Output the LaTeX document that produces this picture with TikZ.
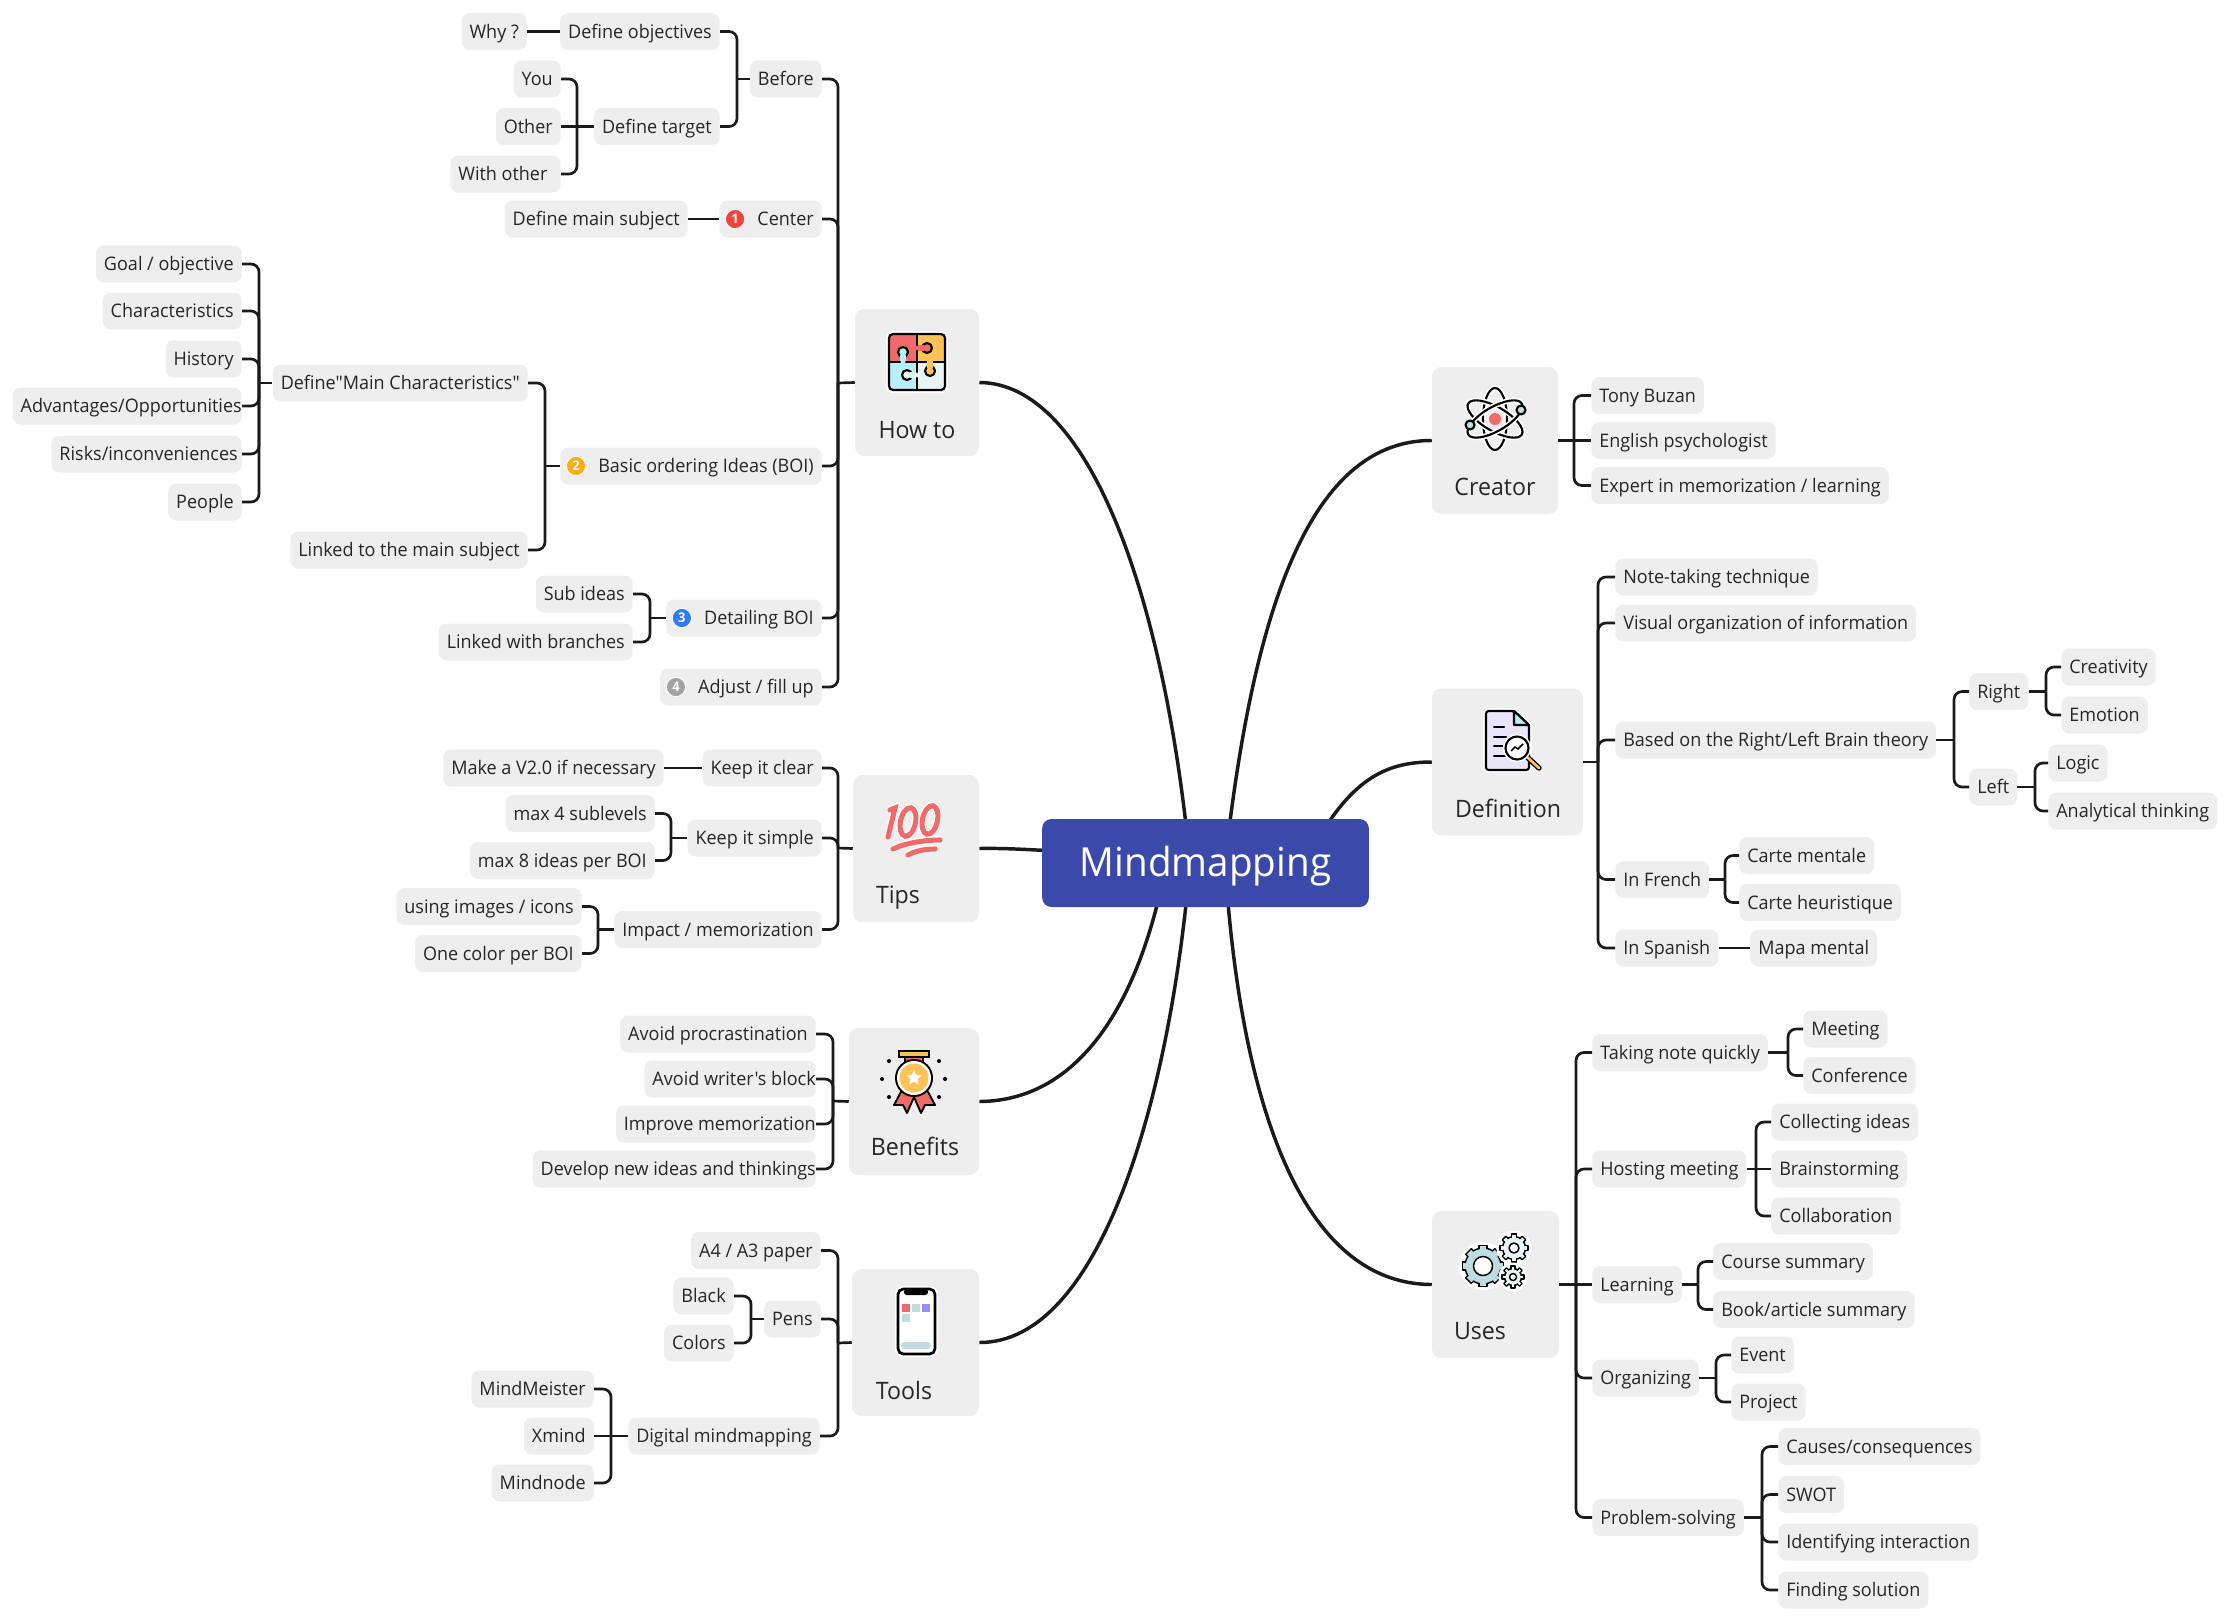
\documentclass[tikz,border=0pt]{standalone}
\usepackage{fontspec}
\setmainfont{Open Sans}[FakeStretch=0.965,Ligatures=TeXOff]
\usetikzlibrary{backgrounds,shapes.geometric}
\definecolor{boxgray}{HTML}{EEEEEE}
\definecolor{inkdark}{HTML}{262626}
\definecolor{linkdark}{HTML}{1A1A1A}
\definecolor{rootblue}{HTML}{3B4AAA}
\definecolor{iconred}{HTML}{F06A6A}
\definecolor{iconamber}{HTML}{FFC257}
\definecolor{iconcyan}{HTML}{B8EFF8}
\definecolor{iconpale}{HTML}{E8F5F5}
\definecolor{iconteal}{HTML}{BEDDE2}
\definecolor{iconviolet}{HTML}{9B8CF5}
\definecolor{iconlilac}{HTML}{E9E6FB}
\definecolor{badgered}{HTML}{F4433C}
\definecolor{badgeamber}{HTML}{FFAE0D}
\definecolor{badgeblue}{HTML}{2E7DF6}
\definecolor{badgegray}{HTML}{A3A3A3}
\tikzset{
  topic/.style={fill=boxgray,rounded corners=6pt,minimum height=27.75pt,inner xsep=6pt,inner ysep=0pt,
    text=inkdark,font=\fontsize{14}{16}\selectfont,text height=11.5pt,text depth=1.5pt},
  catbox/.style={fill=boxgray,rounded corners=7pt,minimum height=110.25pt,inner sep=0pt},
  catlabel/.style={anchor=base,text=inkdark,font=\fontsize{18}{20}\selectfont,inner sep=0pt},
  rootbox/.style={fill=rootblue,rounded corners=7pt,minimum width=245pt,minimum height=66pt,inner sep=0pt,
    text=white,font=\fontsize{30}{34}\selectfont,text height=26pt,text depth=6.3pt},
  badge/.style={circle,draw=white,line width=.7pt,inner sep=0pt,minimum size=14.5pt,text=white,
    font=\fontsize{10}{10}\selectfont\bfseries},
  link/.style={draw=linkdark,line width=2pt,rounded corners=6pt},
  branch/.style={draw=linkdark,line width=2.6pt},
  iconline/.style={draw=black,line width=1.6pt,line join=round,line cap=round},
  gearline/.style={draw=black,line width=1.1pt,line join=round},
  halo/.style={preaction={draw=white,line width=#1}},
}
\newcommand{\badgegap}{\hspace{22.5pt}}
\newcommand{\overrun}[1]{\hspace*{-#1}\mbox{}}
\newcommand{\gearicon}[5]{
  \begin{scope}[shift={(#1)}]
    \fill[white] (0,0) circle [radius=#2+6];
    \foreach \a in {0,45,...,315}
      \draw[gearline,fill=#4,rotate=\a] ({-0.22*#2},0) rectangle ({0.22*#2},{#2+2.5});
    \draw[gearline,fill=#4] (0,0) circle [radius=#2];
    \foreach \a in {0,45,...,315}
      \fill[#4,rotate=\a] ({-0.22*#2+.8},{#2-1.5}) rectangle ({0.22*#2-.8},{#2+1.6});
    \draw[gearline,fill=#5] (0,0) circle [radius=#3];
  \end{scope}
}
\begin{document}
\begin{tikzpicture}[x=0.75pt,y=-0.75pt]
\useasboundingbox (0,0) rectangle (2233,1620);

\node[rootbox] (root) at (1205.5,863) {Mindmapping};
\coordinate (rootL) at (1190,863);
\coordinate (rootR) at (1225,863);
\coordinate (rootD) at (1312,850);
\coordinate (rootT) at (1060,851);
\coordinate (rootB) at (1165,870);

\node[catbox,minimum width=93pt] (howto) at (917,382.5) {};
\node[catlabel] (howtolabel) at (917,438) {How to};
\node[catbox,minimum width=94.5pt] (tips) at (916,848.5) {};
\node[catlabel] (tipslabel) at (898,903.5) {Tips};
\node[catbox,minimum width=97.5pt] (benefits) at (914,1101.5) {};
\node[catlabel] (benefitslabel) at (915,1155.5) {Benefits};
\node[catbox,minimum width=95.25pt] (tools) at (915.5,1342.5) {};
\node[catlabel] (toolslabel) at (904,1399) {Tools};
\node[catbox,minimum width=94.5pt] (creator) at (1495,440.5) {};
\node[catlabel] (creatorlabel) at (1495,495.5) {Creator};
\node[catbox,minimum width=113.25pt] (definition) at (1507.5,762) {};
\node[catlabel] (definitionlabel) at (1508,817) {Definition};
\node[catbox,minimum width=95.25pt] (uses) at (1495.5,1284.5) {};
\node[catlabel] (useslabel) at (1480,1339.5) {Uses};

\node[topic,anchor=east] (before) at (822,79) {Before};
\node[topic,anchor=east] (defobj) at (720,31.5) {Define objectives};
\node[topic,anchor=east] (why) at (527,31.5) {Why ?};
\node[topic,anchor=east] (deftarget) at (720,126.5) {Define target};
\node[topic,anchor=east] (you) at (561,79) {You};
\node[topic,anchor=east] (other) at (561,126.5) {Other};
\node[topic,anchor=east] (withother) at (561,174) {With other\hspace*{4pt}\mbox{}};
\node[topic,anchor=east] (center) at (822,219) {\badgegap Center};
\node[topic,anchor=east] (mainsubject) at (688,219) {Define main subject};
\node[topic,anchor=east] (boi) at (822,466) {\badgegap Basic ordering Ideas (BOI)};
\node[topic,anchor=east] (mainchar) at (528,383) {Define"Main Characteristics"};
\node[topic,anchor=east] (linked) at (528,550) {Linked to the main subject};
\node[topic,anchor=east] (goal) at (242,264) {Goal / objective};
\node[topic,anchor=east] (charac) at (242,311) {Characteristics};
\node[topic,anchor=east] (history) at (242,359) {History};
\node[topic,anchor=east] (advant) at (242,406) {Advantages/Opportunities\overrun{6pt}};
\node[topic,anchor=east] (risks) at (242,454) {Risks/inconveniences\overrun{3pt}};
\node[topic,anchor=east] (people) at (242,502) {People};
\node[topic,anchor=east] (detail) at (822,618) {\badgegap Detailing BOI};
\node[topic,anchor=east] (subideas) at (633,594) {Sub ideas};
\node[topic,anchor=east] (linkbranch) at (633,642) {Linked with branches};
\node[topic,anchor=east] (adjust) at (822,687) {\badgegap Adjust / fill up};

\node[badge,fill=badgered] (badgea) at ([xshift=12pt]center.west) {1};
\node[badge,fill=badgeamber] (badgeb) at ([xshift=12pt]boi.west) {2};
\node[badge,fill=badgeblue] (badgec) at ([xshift=12pt]detail.west) {3};
\node[badge,fill=badgegray] (badged) at ([xshift=12pt]adjust.west) {4};

\node[topic,anchor=east] (clear) at (822,768) {Keep it clear};
\node[topic,anchor=east] (vtwo) at (664,768) {Make a V2.0 if necessary};
\node[topic,anchor=east] (simple) at (822,838) {Keep it simple};
\node[topic,anchor=east] (sublevels) at (655,813.5) {max 4 sublevels};
\node[topic,anchor=east] (perboi) at (655,860.5) {max 8 ideas per BOI};
\node[topic,anchor=east] (impact) at (822,929.5) {Impact / memorization};
\node[topic,anchor=east] (images) at (582,906.5) {using images / icons};
\node[topic,anchor=east] (onecolor) at (582,953.5) {One color per BOI};

\node[topic,anchor=east] (procrast) at (816,1034) {Avoid procrastination};
\node[topic,anchor=east] (writer) at (816,1079) {Avoid writer's block\overrun{6pt}};
\node[topic,anchor=east] (improve) at (816,1124) {Improve memorization\overrun{6pt}};
\node[topic,anchor=east] (newideas) at (816,1169) {Develop new ideas and thinkings\overrun{6pt}};

\node[topic,anchor=east] (paper) at (821,1250.5) {A4 / A3 paper};
\node[topic,anchor=east] (pens) at (821,1319) {Pens};
\node[topic,anchor=east] (black) at (734,1296) {Black};
\node[topic,anchor=east] (colors) at (734,1343) {Colors};
\node[topic,anchor=east] (digital) at (820,1436) {Digital mindmapping};
\node[topic,anchor=east] (meister) at (594,1389) {MindMeister};
\node[topic,anchor=east] (xmind) at (594,1436) {Xmind};
\node[topic,anchor=east] (mindnode) at (594,1483) {Mindnode};

\node[topic,anchor=west] (tony) at (1591,395.5) {Tony Buzan};
\node[topic,anchor=west] (english) at (1591,440.5) {English psychologist};
\node[topic,anchor=west] (expert) at (1591,485.5) {Expert in memorization / learning};

\node[topic,anchor=west] (note) at (1615,577) {Note-taking technique};
\node[topic,anchor=west] (visual) at (1615,623) {Visual organization of information};
\node[topic,anchor=west] (theory) at (1615,740) {Based on the Right/Left Brain theory};
\node[topic,anchor=west] (right) at (1969,691.5) {Right};
\node[topic,anchor=west] (creativity) at (2061,667) {Creativity};
\node[topic,anchor=west] (emotion) at (2061,715) {Emotion};
\node[topic,anchor=west] (left) at (1969,787) {Left};
\node[topic,anchor=west] (logic) at (2048,763) {Logic};
\node[topic,anchor=west] (analytical) at (2048,811) {Analytical thinking};
\node[topic,anchor=west] (french) at (1615,879.5) {In French};
\node[topic,anchor=west] (mentale) at (1739,855.5) {Carte mentale};
\node[topic,anchor=west] (heuristique) at (1739,902.5) {Carte heuristique};
\node[topic,anchor=west] (spanish) at (1615,948) {In Spanish};
\node[topic,anchor=west] (mapa) at (1750,948) {Mapa mental};

\node[topic,anchor=west] (quickly) at (1592,1052.5) {Taking note quickly};
\node[topic,anchor=west] (meeting) at (1803,1029) {Meeting};
\node[topic,anchor=west] (conference) at (1803,1075.5) {Conference};
\node[topic,anchor=west] (hosting) at (1592,1169) {Hosting meeting};
\node[topic,anchor=west] (collecting) at (1771,1122) {Collecting ideas};
\node[topic,anchor=west] (brainstorm) at (1771,1169) {Brainstorming};
\node[topic,anchor=west] (collab) at (1771,1216) {Collaboration};
\node[topic,anchor=west] (learning) at (1592,1284.5) {Learning};
\node[topic,anchor=west] (course) at (1713,1261.5) {Course summary};
\node[topic,anchor=west] (book) at (1713,1309.5) {Book/article summary};
\node[topic,anchor=west] (organizing) at (1592,1378) {Organizing};
\node[topic,anchor=west] (event) at (1731,1355) {Event};
\node[topic,anchor=west] (project) at (1731,1402) {Project};
\node[topic,anchor=west] (problem) at (1592,1517.5) {Problem-solving};
\node[topic,anchor=west] (causes) at (1778,1446.5) {Causes/consequences};
\node[topic,anchor=west] (swot) at (1778,1494.5) {SWOT};
\node[topic,anchor=west] (identify) at (1778,1542) {Identifying interaction};
\node[topic,anchor=west] (finding) at (1778,1590) {Finding solution};

\coordinate (hbar) at (838,383);
\coordinate (beforebar) at (737,79);
\coordinate (targetbar) at (577,126.5);
\coordinate (boibar) at (545,466);
\coordinate (charbar) at (259,383);
\coordinate (detailbar) at (650,618);
\coordinate (tbar) at (838,848);
\coordinate (simplebar) at (671,838);
\coordinate (impactbar) at (598,929.5);
\coordinate (bbar) at (833,1101);
\coordinate (tlbar) at (838,1343);
\coordinate (pensbar) at (751,1319);
\coordinate (digitalbar) at (611,1436);
\coordinate (crbar) at (1574,440.5);
\coordinate (dbar) at (1598,762);
\coordinate (theorybar) at (1954,740);
\coordinate (rightbar) at (2046,691.5);
\coordinate (leftbar) at (2035,787);
\coordinate (frenchbar) at (1725,879.5);
\coordinate (ubar) at (1576,1284.5);
\coordinate (quickbar) at (1788,1052.5);
\coordinate (hostbar) at (1756,1169);
\coordinate (learnbar) at (1698,1284.5);
\coordinate (orgbar) at (1716,1378);
\coordinate (probbar) at (1762,1517.5);

\draw[link] (why.east) -- (defobj.west);
\draw[link] (defobj.east) -| (beforebar);
\draw[link] (deftarget.east) -| (beforebar);
\draw[link] (beforebar) -- (before.west);
\draw[link] (you.east) -| (targetbar);
\draw[link] (withother.east) -| (targetbar);
\draw[link] (other.east) -- (deftarget.west);
\draw[link] (before.east) -| (hbar);
\draw[link] (center.east) -| (hbar);
\draw[link] (boi.east) -| (hbar);
\draw[link] (detail.east) -| (hbar);
\draw[link] (adjust.east) -| (hbar);
\draw[link] (hbar) -- (howto.west);
\draw[link] (mainsubject.east) -- (center.west);
\draw[link] (mainchar.east) -| (boibar);
\draw[link] (linked.east) -| (boibar);
\draw[link] (boibar) -- (boi.west);
\draw[link] (goal.east) -| (charbar);
\draw[link] (charac.east) -| (charbar);
\draw[link] (history.east) -| (charbar);
\draw[link] (advant.east) -| (charbar);
\draw[link] (risks.east) -| (charbar);
\draw[link] (people.east) -| (charbar);
\draw[link] (charbar) -- (mainchar.west);
\draw[link] (subideas.east) -| (detailbar);
\draw[link] (linkbranch.east) -| (detailbar);
\draw[link] (detailbar) -- (detail.west);

\draw[link] (clear.east) -| (tbar);
\draw[link] (simple.east) -| (tbar);
\draw[link] (impact.east) -| (tbar);
\draw[link] (tbar) -- (tips.west);
\draw[link] (vtwo.east) -- (clear.west);
\draw[link] (sublevels.east) -| (simplebar);
\draw[link] (perboi.east) -| (simplebar);
\draw[link] (simplebar) -- (simple.west);
\draw[link] (images.east) -| (impactbar);
\draw[link] (onecolor.east) -| (impactbar);
\draw[link] (impactbar) -- (impact.west);

\draw[link] (procrast.east) -| (bbar);
\draw[link] (writer.east) -| (bbar);
\draw[link] (improve.east) -| (bbar);
\draw[link] (newideas.east) -| (bbar);
\draw[link] (bbar) -- (benefits.west);

\draw[link] (paper.east) -| (tlbar);
\draw[link] (pens.east) -| (tlbar);
\draw[link] (digital.east) -| (tlbar);
\draw[link] (tlbar) -- (tools.west);
\draw[link] (black.east) -| (pensbar);
\draw[link] (colors.east) -| (pensbar);
\draw[link] (pensbar) -- (pens.west);
\draw[link] (meister.east) -| (digitalbar);
\draw[link] (mindnode.east) -| (digitalbar);
\draw[link] (xmind.east) -- (digital.west);

\draw[link] (tony.west) -| (crbar);
\draw[link] (expert.west) -| (crbar);
\draw[link] (creator.east) -- (english.west);

\draw[link] (note.west) -| (dbar);
\draw[link] (visual.west) -| (dbar);
\draw[link] (theory.west) -| (dbar);
\draw[link] (french.west) -| (dbar);
\draw[link] (spanish.west) -| (dbar);
\draw[link] (dbar) -- (definition.east);
\draw[link] (right.west) -| (theorybar);
\draw[link] (left.west) -| (theorybar);
\draw[link] (theorybar) -- (theory.east);
\draw[link] (creativity.west) -| (rightbar);
\draw[link] (emotion.west) -| (rightbar);
\draw[link] (rightbar) -- (right.east);
\draw[link] (logic.west) -| (leftbar);
\draw[link] (analytical.west) -| (leftbar);
\draw[link] (leftbar) -- (left.east);
\draw[link] (mentale.west) -| (frenchbar);
\draw[link] (heuristique.west) -| (frenchbar);
\draw[link] (frenchbar) -- (french.east);
\draw[link] (spanish.east) -- (mapa.west);

\draw[link] (quickly.west) -| (ubar);
\draw[link] (hosting.west) -| (ubar);
\draw[link] (learning.west) -- (ubar);
\draw[link] (organizing.west) -| (ubar);
\draw[link] (problem.west) -| (ubar);
\draw[link] (ubar) -- (uses.east);
\draw[link] (meeting.west) -| (quickbar);
\draw[link] (conference.west) -| (quickbar);
\draw[link] (quickbar) -- (quickly.east);
\draw[link] (collecting.west) -| (hostbar);
\draw[link] (collab.west) -| (hostbar);
\draw[link] (brainstorm.west) -- (hosting.east);
\draw[link] (course.west) -| (learnbar);
\draw[link] (book.west) -| (learnbar);
\draw[link] (learnbar) -- (learning.east);
\draw[link] (event.west) -| (orgbar);
\draw[link] (project.west) -| (orgbar);
\draw[link] (orgbar) -- (organizing.east);
\draw[link] (causes.west) -| (probbar);
\draw[link] (swot.west) -| (probbar);
\draw[link] (identify.west) -| (probbar);
\draw[link] (finding.west) -| (probbar);
\draw[link] (probbar) -- (problem.east);

\begin{pgfonlayer}{background}
\draw[branch] (howto.east) .. controls (1090,383) and (1165,600) .. (rootL);
\draw[branch] (creator.west) .. controls (1300,440) and (1250,640) .. (rootR);
\draw[branch] (definition.west) .. controls (1385,762) and (1350,780) .. (rootD);
\draw[branch] (tips.east) .. controls (1010,848) and (1030,850) .. (rootT);
\draw[branch] (benefits.east) .. controls (1070,1101) and (1135,1020) .. (rootB);
\draw[branch] (tools.east) .. controls (1100,1343) and (1170,1100) .. (rootL);
\draw[branch] (uses.west) .. controls (1300,1284) and (1240,1100) .. (rootR);
\end{pgfonlayer}

\begin{scope}[shift={(917,362)}]
  \fill[white,rounded corners=4pt] (-31,-31) rectangle (31,31);
  \fill[iconred] (-28,-28) rectangle (0,0);
  \fill[iconamber] (0,-28) rectangle (28,0);
  \fill[iconcyan] (-28,0) rectangle (0,28);
  \fill[iconpale] (0,0) rectangle (28,28);
  \draw[iconline,fill=iconcyan] (-14,-10) circle [radius=5];
  \draw[iconline,fill=iconred] (10,-14) circle [radius=5];
  \draw[iconline,fill=iconamber] (13,9) circle [radius=5];
  \draw[iconline,fill=iconpale] (-10,13) circle [radius=5];
  \fill[iconcyan] (-17,-7) rectangle (-11,1);
  \fill[iconred] (-1,-17) rectangle (7,-11);
  \fill[iconamber] (10,-1) rectangle (16,6);
  \fill[iconpale] (-7,10) rectangle (1,16);
  \draw[iconline] (-28,0) -- (-17,0) (-11,0) -- (28,0) (0,-28) -- (0,-17) (0,-11) -- (0,10) (0,16) -- (0,28);
  \fill[iconamber] (10,-2) rectangle (16,2);
  \draw[iconline,rounded corners=3pt] (-28,-28) rectangle (28,28);
\end{scope}

\draw[iconred,line width=3.8pt,line cap=round,halo=5.6pt] (890,810) -- (895,808) -- (888,837);
\draw[iconred,line width=3.8pt,halo=5.6pt,rotate around={-12:(908,822)}] (908,822) ellipse [x radius=7.5,y radius=14.5];
\draw[iconred,line width=3.8pt,halo=5.6pt,rotate around={-12:(930,820)}] (930,820) ellipse [x radius=7.5,y radius=14.5];
\draw[iconred,line width=3.8pt,line cap=round,halo=5.6pt] (893,849) .. controls (905,843) and (925,840) .. (940,840);
\draw[iconred,line width=3.8pt,line cap=round,halo=5.6pt] (908,855) .. controls (915,851) and (925,849) .. (935,849);

\fill[iconred,draw=black,line width=1.4pt,line join=round] (902,1090) -- (894,1105) -- (903,1105) -- (907,1113) -- (914,1097) -- (921,1113) -- (925,1105) -- (935,1105) -- (927,1090) -- cycle;
\fill[iconred,draw=black,line width=1.4pt] (905,1057) rectangle (923,1066);
\fill[iconamber,draw=black,line width=1.4pt] (899,1051) rectangle (929,1057);
\fill[black] (914,1078) circle [radius=19];
\fill[white] (914,1078) circle [radius=17];
\fill[iconamber] (914,1078) circle [radius=14.5];
\node[star,star points=5,star point ratio=2.2,fill=white,inner sep=0pt,minimum size=12pt] (medalstar) at (914,1078) {};
\foreach \p in {(889,1061),(882,1079),(889,1097),(939,1061),(945,1079),(939,1097)}
  \fill[black] \p circle [radius=2];

\fill[white,rounded corners=6pt] (895,1286) rectangle (938,1357);
\draw[draw=black,line width=2pt,fill=white,rounded corners=4pt] (898,1289) rectangle (935,1354);
\fill[black,rounded corners=2pt] (904,1289) rectangle (928,1295);
\fill[iconred] (902,1304) rectangle (910,1312);
\fill[iconteal] (912,1304) rectangle (920,1312);
\fill[iconviolet] (922,1304) rectangle (930,1312);
\fill[iconteal] (902,1314) rectangle (910,1322);
\fill[iconteal,rounded corners=2.5pt] (901,1342) rectangle (931,1349);

\draw[iconline,halo=4pt] (1495,419) ellipse [x radius=12,y radius=31];
\draw[iconline,halo=4pt,rotate around={60:(1495,419)}] (1495,419) ellipse [x radius=12,y radius=31];
\draw[iconline,halo=4pt,rotate around={-60:(1495,419)}] (1495,419) ellipse [x radius=12,y radius=31];
\fill[iconred] (1495,419) circle [radius=6];
\draw[iconline,fill=iconteal] (1521,410) circle [radius=4.5];
\draw[iconline,fill=iconteal] (1470,425) circle [radius=4.5];

\draw[iconline,fill=iconlilac,rounded corners=2pt,halo=4pt] (1486,711) -- (1514,711) -- (1529,725) -- (1529,770) -- (1486,770) -- cycle;
\draw[iconline,fill=iconcyan] (1514,711) -- (1514,725) -- (1529,725) -- cycle;
\draw[iconline] (1494,727) -- (1504,727) (1494,737) -- (1506,737) (1494,746) -- (1503,746) (1494,756) -- (1506,756);
\draw[black,line width=4pt,line cap=round] (1527,757) -- (1539,768);
\draw[iconamber,line width=2pt,line cap=round] (1527,757) -- (1539,768);
\draw[iconline,fill=white,halo=4pt] (1517,748) circle [radius=11.5];
\draw[draw=black,line width=1.1pt] (1511,751) -- (1515,747) -- (1518,749) -- (1523,744);

\gearicon{1483,1266}{18}{9.5}{iconteal}{white}
\gearicon{1514,1248}{11.5}{5}{iconpale}{white}
\gearicon{1513,1277}{8.5}{3.5}{iconpale}{white}
\end{tikzpicture}
\end{document}
